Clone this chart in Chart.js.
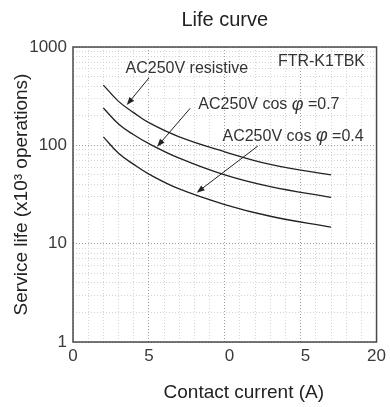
<!DOCTYPE html>
<html>
<head>
<meta charset="utf-8">
<script src="https://cdn.jsdelivr.net/npm/chart.js@4.4.1/dist/chart.umd.min.js"></script>
<style>
  html, body { margin: 0; padding: 0; background: #fff; }
  #wrap { width: 390px; height: 407px; }
</style>
</head>
<body>
<div id="wrap"><canvas id="chart-canvas" width="390" height="407"></canvas></div>
<script>
'use strict';

const currentA = [2, 3, 4, 5, 7, 10, 13, 17];
// service life in x10^3 operations
const lifeResistive = [410, 280, 215, 170, 122, 86, 64, 50];
const lifeCos07 = [240, 165, 128, 104, 74, 50, 38, 29.6];
const lifeCos04 = [122, 83, 64, 51, 36, 25, 19, 14.7];

// tick values and labels as printed on the reference
const xTickValues = [0, 5, 10, 15, 20];
const xTickLabels = ['0', '5', '\u20070', '\u20075', '20'];
const yDecades = [1, 10, 100, 1000];
const yTickLabels = ['1', '10', '100', '1000'];
const yMinorSteps = [2, 3, 4, 5, 6, 7, 8, 9];

const sansFont = '"Liberation Sans", Arial, sans-serif';

// callouts: text anchor and arrow, in data units
const callouts = [
    { parts: [['AC250V resistive', false]], at: [3.46, 597], tail: [5.0, 484], tip: [3.54, 257] },
    { parts: [['AC250V cos ', false], ['\u03c6', true], [' =0.7', false]], at: [8.26, 257], tail: [7.72, 238], tip: [5.54, 96.8] },
    { parts: [['AC250V cos ', false], ['\u03c6', true], [' =0.4', false]], at: [9.85, 124], tail: [12.18, 98.4], tip: [8.15, 33] }
];
const modelName = { text: 'FTR-K1TBK', at: [19.24, 703] };

function toPoints(xs, ys) {
    return xs.map((x, i) => ({ x: x, y: ys[i] }));
}

// frame, callouts and arrows
const overlayPlugin = {
    id: 'overlay',
    afterDatasetsDraw(chart) {
        const ctx = chart.ctx;
        const xs = chart.scales.x;
        const ys = chart.scales.y;
        const area = chart.chartArea;

        ctx.save();
        ctx.strokeStyle = '#4a4a4a';
        ctx.lineWidth = 1.5;
        ctx.strokeRect(area.left, area.top, area.right - area.left, area.bottom - area.top);

        ctx.fillStyle = '#333';
        ctx.textBaseline = 'middle';
        callouts.forEach((c) => {
            let px = xs.getPixelForValue(c.at[0]);
            const py = ys.getPixelForValue(c.at[1]);
            ctx.textAlign = 'left';
            c.parts.forEach(([t, italic]) => {
                ctx.font = (italic ? 'italic 18px ' : '16px ') + sansFont;
                ctx.fillText(t, px, py);
                px += ctx.measureText(t).width;
            });

            const x1 = xs.getPixelForValue(c.tail[0]);
            const y1 = ys.getPixelForValue(c.tail[1]);
            const x2 = xs.getPixelForValue(c.tip[0]);
            const y2 = ys.getPixelForValue(c.tip[1]);
            const ang = Math.atan2(y2 - y1, x2 - x1);
            ctx.strokeStyle = '#222';
            ctx.lineWidth = 1;
            ctx.beginPath();
            ctx.moveTo(x1, y1);
            ctx.lineTo(x2 - 5 * Math.cos(ang), y2 - 5 * Math.sin(ang));
            ctx.stroke();
            ctx.beginPath();
            ctx.moveTo(x2, y2);
            ctx.lineTo(x2 - 8 * Math.cos(ang) + 3 * Math.sin(ang), y2 - 8 * Math.sin(ang) - 3 * Math.cos(ang));
            ctx.lineTo(x2 - 8 * Math.cos(ang) - 3 * Math.sin(ang), y2 - 8 * Math.sin(ang) + 3 * Math.cos(ang));
            ctx.closePath();
            ctx.fillStyle = '#222';
            ctx.fill();
            ctx.fillStyle = '#333';
        });

        ctx.font = '16px ' + sansFont;
        ctx.textAlign = 'right';
        ctx.fillText(modelName.text, xs.getPixelForValue(modelName.at[0]), ys.getPixelForValue(modelName.at[1]));
        ctx.restore();
    }
};

const curveStyle = {
    borderColor: '#222',
    borderWidth: 1.3,
    pointRadius: 0,
    fill: false,
    tension: 0.4
};

const ctx = document.getElementById('chart-canvas').getContext('2d');
const lifeChart = new Chart(ctx, {
    type: 'line',
    data: {
        datasets: [
            Object.assign({ label: 'AC250V resistive', data: toPoints(currentA, lifeResistive) }, curveStyle),
            Object.assign({ label: 'AC250V cos\u03c6=0.7', data: toPoints(currentA, lifeCos07) }, curveStyle),
            Object.assign({ label: 'AC250V cos\u03c6=0.4', data: toPoints(currentA, lifeCos04) }, curveStyle)
        ]
    },
    options: {
        responsive: false,
        animation: false,
        devicePixelRatio: 1,
        layout: { padding: { left: 0, right: 12, top: 0, bottom: 0 } },
        plugins: {
            legend: { display: false },
            tooltip: { enabled: false },
            title: {
                display: true,
                text: 'Life curve',
                fullSize: false,
                color: '#222',
                font: { family: sansFont, size: 20, weight: 'normal' },
                padding: { top: 8, bottom: 15 }
            }
        },
        scales: {
            x: {
                type: 'linear',
                min: 0,
                max: 20,
                afterBuildTicks(scale) {
                    const ticks = [];
                    for (let v = 0; v <= 20; v++) ticks.push({ value: v });
                    scale.ticks = ticks;
                },
                afterFit(scale) { scale.height = 65; },
                grid: {
                    drawTicks: false,
                    lineWidth: 1,
                    color: (c) => (c.tick && xTickValues.includes(c.tick.value) ? '#9c9c9c' : '#d4d4d4')
                },
                border: { display: false, dash: [1, 2] },
                ticks: {
                    autoSkip: false,
                    maxRotation: 0,
                    padding: 4,
                    color: '#3a3a3a',
                    font: { family: sansFont, size: 17 },
                    callback: (v) => {
                        const i = xTickValues.indexOf(v);
                        return i >= 0 ? xTickLabels[i] : '';
                    }
                },
                title: {
                    display: true,
                    text: '\u2003\u2003Contact current (A)',
                    color: '#222',
                    font: { family: sansFont, size: 19 },
                    padding: { top: 0, bottom: 3 }
                }
            },
            y: {
                type: 'logarithmic',
                min: 1,
                max: 1000,
                afterBuildTicks(scale) {
                    const ticks = [];
                    yDecades.forEach((d) => {
                        ticks.push({ value: d, major: true });
                        if (d < 1000) yMinorSteps.forEach((m) => ticks.push({ value: d * m }));
                    });
                    scale.ticks = ticks;
                },
                afterFit(scale) { scale.width = 73; },
                grid: {
                    drawTicks: false,
                    lineWidth: 1,
                    color: (c) => (c.tick && yDecades.includes(c.tick.value) ? '#9c9c9c' : '#d4d4d4')
                },
                border: { display: false, dash: [1, 2] },
                ticks: {
                    autoSkip: false,
                    padding: 6,
                    color: '#3a3a3a',
                    font: { family: sansFont, size: 17 },
                    callback: (v) => {
                        const i = yDecades.indexOf(v);
                        return i >= 0 ? yTickLabels[i] : '';
                    }
                },
                title: {
                    display: true,
                    text: 'Service life (x10\u00b3 operations)',
                    color: '#222',
                    font: { family: sansFont, size: 19 },
                    padding: { top: 10, bottom: 0 }
                }
            }
        }
    },
    plugins: [overlayPlugin]
});
</script>
</body>
</html>
